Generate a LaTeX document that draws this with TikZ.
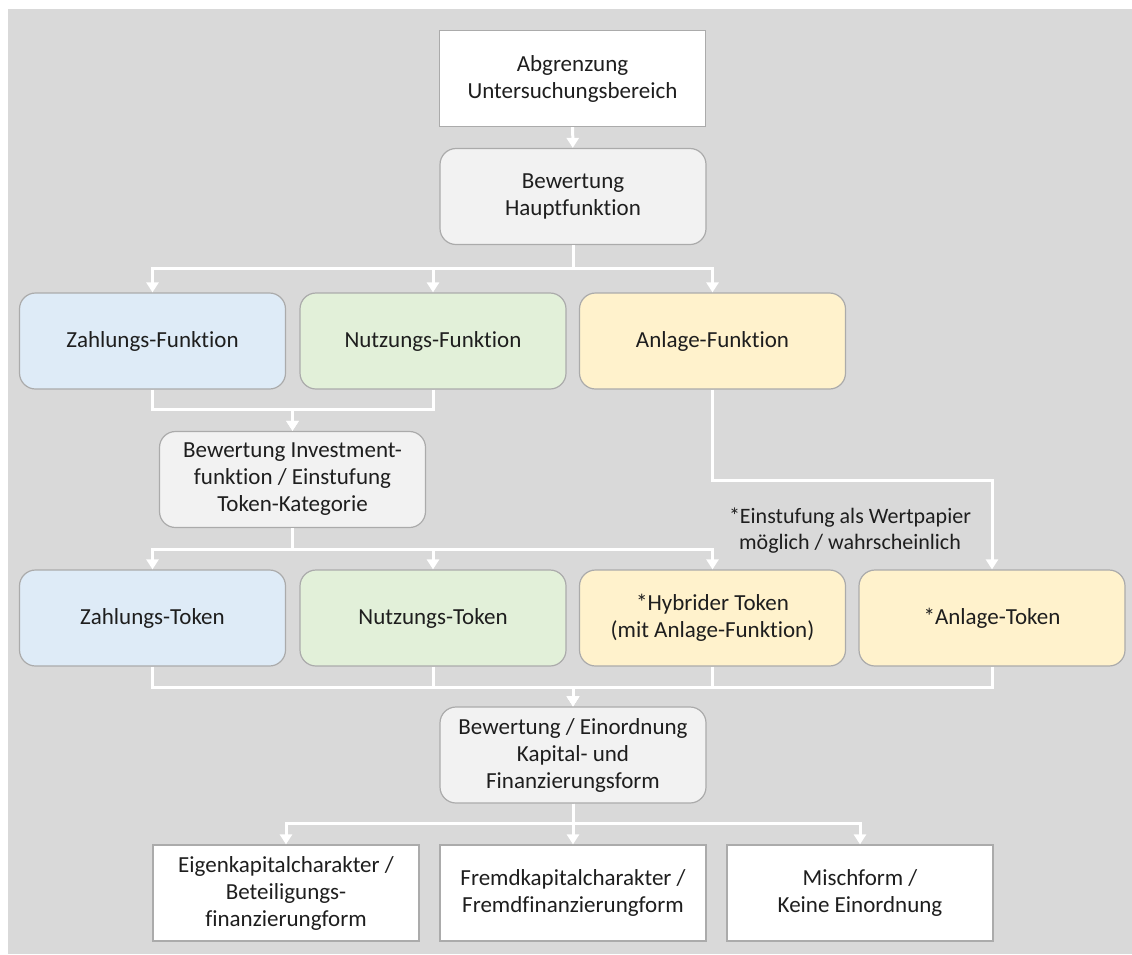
\documentclass[tikz,border=0pt]{standalone}
\usepackage{fontspec}
\setmainfont{Carlito}[RawFeature=-liga]
\usepackage{xcolor}
\usepackage{tikz}
\usetikzlibrary{positioning,calc,arrows.meta}
\definecolor{bggray}{HTML}{D9D9D9}
\definecolor{boxline}{HTML}{ABABAB}
\definecolor{lightgray}{HTML}{F2F2F2}
\definecolor{lightblue}{HTML}{DEEBF7}
\definecolor{lightgreen}{HTML}{E2F0D9}
\definecolor{lightyellow}{HTML}{FFF2CC}
\definecolor{textcol}{HTML}{1E1E1E}
\tikzstyle{box} = [rectangle, draw=boxline, line width=1.2pt, minimum width=266pt, minimum height=96pt, inner sep=0pt, align=center, text=textcol, font=\fontsize{23}{27}\selectfont]
\tikzstyle{plain} = [box, fill=white]
\tikzstyle{decide} = [box, rounded corners=16pt, fill=lightgray]
\tikzstyle{pay} = [box, rounded corners=16pt, fill=lightblue]
\tikzstyle{use} = [box, rounded corners=16pt, fill=lightgreen]
\tikzstyle{invest} = [box, rounded corners=16pt, fill=lightyellow]
\tikzstyle{arrow} = [-{Triangle[width=12pt,length=10pt]}, white, line width=3pt]

\begin{document}
\begin{tikzpicture}[x=1pt, y=-1pt]
    % Canvas
    \useasboundingbox (0,0) rectangle (1132,954);
    \fill[bggray] (8,9) rectangle (1132,954);

    % Boxes
    \node[plain] (abgr) at (572.5,78.5) {Abgrenzung\\Untersuchungsbereich};
    \node[decide] (hauptf) at (573,196.5) {Bewertung\\Hauptfunktion};
    \node[pay] (zfunk) at (152.5,341) {Zahlungs-Funktion};
    \node[use] (nfunk) at (433,341) {Nutzungs-Funktion};
    \node[invest] (afunk) at (712.5,341) {Anlage-Funktion};
    \node[decide] (invfunk) at (292.5,479.5) {Bewertung Investment-\\funktion / Einstufung\\Token-Kategorie};
    \node[pay] (ztok) at (152.5,618) {Zahlungs-Token};
    \node[use] (ntok) at (433,618) {Nutzungs-Token};
    \node[invest] (htok) at (712.5,618) {*Hybrider Token\\(mit Anlage-Funktion)};
    \node[invest] (atok) at (992,618) {*Anlage-Token};
    \node[decide] (kapital) at (573,755) {Bewertung / Einordnung\\Kapital- und\\Finanzierungsform};
    \node[plain] (eigen) at (286,893) {Eigenkapitalcharakter /\\Beteiligungs-\\finanzierungform};
    \node[plain] (fremd) at (573,893) {Fremdkapitalcharakter /\\Fremdfinanzierungform};
    \node[plain] (misch) at (860,893) {Mischform /\\Keine Einordnung};

    % Note
    \node[align=center, text=textcol, font=\fontsize{22}{26}\selectfont] (note) at (850,531) {*Einstufung als Wertpapier\\m\"oglich / wahrscheinlich};

    % Connectors
    \draw[arrow] (abgr) -- (hauptf);
    \draw[arrow] (hauptf.south) -- ++(0,23) -| (zfunk.north);
    \draw[arrow] (hauptf.south) -- ++(0,23) -| (nfunk.north);
    \draw[arrow] (hauptf.south) -- ++(0,23) -| (afunk.north);
    \draw[arrow] (zfunk.south) -- ++(0,20) -| (invfunk.north);
    \draw[arrow] (nfunk.south) -- ++(0,20) -| (invfunk.north);
    \draw[arrow] (afunk.south) -- ++(0,91) -| (atok.north);
    \draw[arrow] (invfunk.south) -- ++(0,21) -| (ztok.north);
    \draw[arrow] (invfunk.south) -- ++(0,21) -| (ntok.north);
    \draw[arrow] (invfunk.south) -- ++(0,21) -| (htok.north);
    \draw[arrow] (ztok.south) -- ++(0,21) -| (kapital.north);
    \draw[arrow] (ntok.south) -- ++(0,21) -| (kapital.north);
    \draw[arrow] (htok.south) -- ++(0,21) -| (kapital.north);
    \draw[arrow] (atok.south) -- ++(0,21) -| (kapital.north);
    \draw[arrow] (kapital.south) -- ++(0,20) -| (eigen.north);
    \draw[arrow] (kapital.south) -- ++(0,20) -| (fremd.north);
    \draw[arrow] (kapital.south) -- ++(0,20) -| (misch.north);
\end{tikzpicture}
\end{document}
